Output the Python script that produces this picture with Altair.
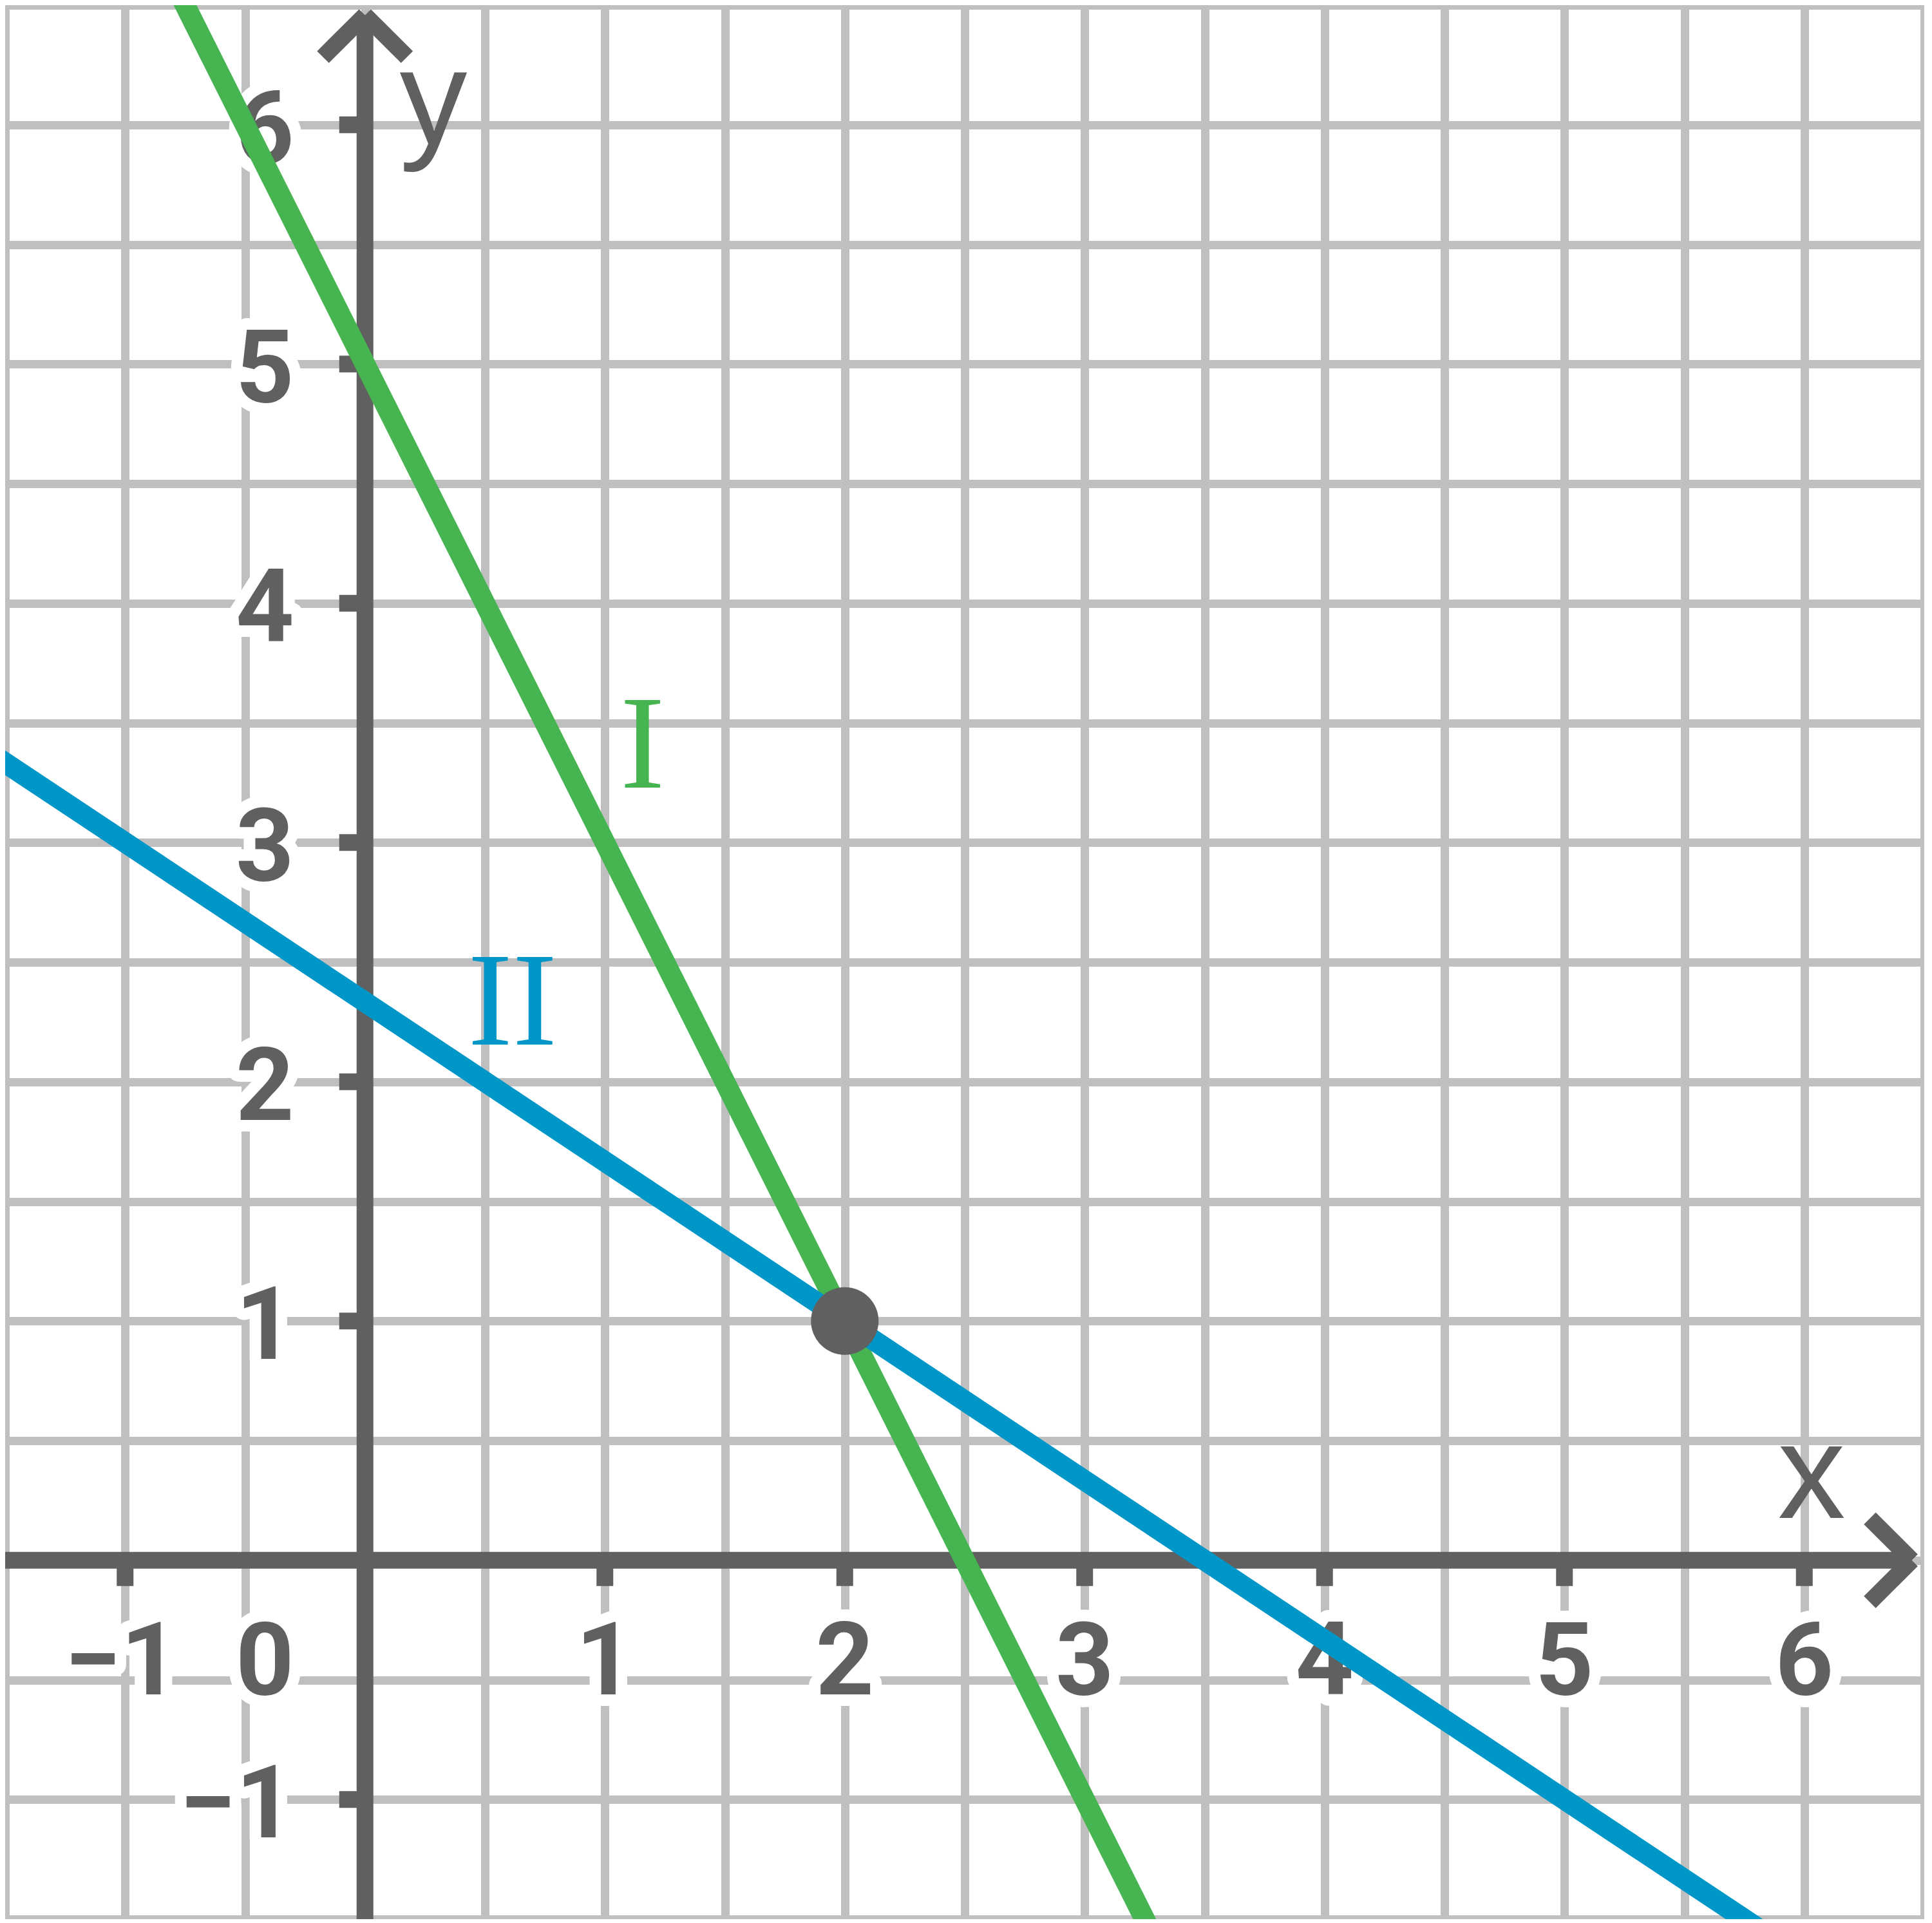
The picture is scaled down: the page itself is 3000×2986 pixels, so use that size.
import altair as alt
import pandas as pd

# ---------------- data ----------------
GRID_VALUES = [-1.5, -1.0, -0.5, 0.0, 0.5, 1.0, 1.5, 2.0, 2.5, 3.0, 3.5,
               4.0, 4.5, 5.0, 5.5, 6.0, 6.5]
X_TICKS = [-1, 1, 2, 3, 4, 5, 6]
X_LABEL_POS = [-1.014, 1, 2, 3, 4, 5, 6]
X_LABELS = ["−1", "1", "2", "3", "4", "5", "6"]
Y_TICKS = [-1, 1, 2, 3, 4, 5, 6]
Y_LABELS = ["−1", "1", "2", "3", "4", "5", "6"]
ORIGIN_LABEL = ["0"]

# line I : through (0, 5) and (2, 1)
LINE_I_X = [-0.8, 3.3]
LINE_I_Y = [6.6, -1.6]
# line II : through (0, 7/3) and (2, 1)
LINE_II_X = [-1.6, 6.0]
LINE_II_Y = [3.4, -1.6667]

POINT_X = [2]
POINT_Y = [1]

NAME_TEXT = ["I", "II"]
NAME_X = [1.157, 0.615]
NAME_Y = [3.23, 2.155]
NAME_COLOR = ["#46b450", "#0096c8"]

AXIS_X_EXTENT = [-1.6, 6.448]
AXIS_Y_EXTENT = [-1.6, 6.458]
X_ARROW = {"x": [6.448, 6.448], "y": [0, 0], "x2": [6.273, 6.273], "y2": [0.175, -0.175]}
Y_ARROW = {"x": [0, 0], "y": [6.458, 6.458], "x2": [-0.175, 0.175], "y2": [6.283, 6.283]}

AXIS_TITLES = ["x", "y"]
AXIS_TITLE_X = [6.03, 0.285]
AXIS_TITLE_Y = [0.178, 5.92]

# ---------------- styles ----------------
GRAY = "#606060"
GRID_C = "#bfbfbf"
GREEN = "#46b450"
BLUE = "#0096c8"
W, H = 2980, 2972

xs = alt.Scale(domain=[-1.5, 6.5], nice=False, zero=False)
ys = alt.Scale(domain=[-1.5, 6.5], nice=False, zero=False)
ax_x = alt.Axis(values=GRID_VALUES, grid=True, gridColor=GRID_C, gridWidth=13,
                gridOpacity=1, labels=False, ticks=False, domain=False, title=None)
ax_y = alt.Axis(values=GRID_VALUES, grid=True, gridColor=GRID_C, gridWidth=13,
                gridOpacity=1, labels=False, ticks=False, domain=False, title=None)


def X(f):
    return alt.X(f, type="quantitative", scale=xs, axis=ax_x)


def Y(f):
    return alt.Y(f, type="quantitative", scale=ys, axis=ax_y)


# tick-label tables
xlab = pd.DataFrame({"x": X_LABEL_POS, "y": [0] * len(X_LABEL_POS), "t": X_LABELS})
ylab = pd.DataFrame({"x": [0] * len(Y_TICKS), "y": Y_TICKS, "t": Y_LABELS})
olab = pd.DataFrame({"x": [0], "y": [0], "t": ORIGIN_LABEL})

LBL = dict(font="Roboto", fontWeight="bold", fontSize=158)
HALO = dict(fill="white", stroke="white", strokeWidth=36, strokeJoin="round")


def labels(df, halo, **kw):
    if halo:
        m = alt.Chart(df).mark_text(**LBL, **HALO, **kw)
    else:
        m = alt.Chart(df).mark_text(**LBL, color=GRAY, **kw)
    return m.encode(x=X("x"), y=Y("y"), text="t:N")


layers = []
# grid carrier (invisible)
grid = alt.Chart(pd.DataFrame({"x": [0], "y": [0]})).mark_point(opacity=0).encode(
    x=X("x"), y=Y("y"))
layers.append(grid)

for halo in (True, False):
    layers.append(labels(xlab, halo, align="center", baseline="alphabetic", dy=208))
    layers.append(labels(ylab, halo, align="right", baseline="alphabetic", dx=-110, dy=59))
    layers.append(labels(olab, halo, align="right", baseline="alphabetic", dx=-110, dy=208))

# axis lines
xaxis = alt.Chart(pd.DataFrame({"x": [AXIS_X_EXTENT[0]], "x2": [AXIS_X_EXTENT[1]], "y": [0]})).mark_rule(
    color=GRAY, strokeWidth=26, strokeCap="butt").encode(x=X("x"), x2="x2:Q", y=Y("y"))
yaxis = alt.Chart(pd.DataFrame({"y": [AXIS_Y_EXTENT[0]], "y2": [AXIS_Y_EXTENT[1]], "x": [0]})).mark_rule(
    color=GRAY, strokeWidth=26, strokeCap="butt").encode(y=Y("y"), y2="y2:Q", x=X("x"))
layers += [xaxis, yaxis]

# tick marks
xt = alt.Chart(pd.DataFrame({"x": X_TICKS, "y": [0] * len(X_TICKS)})).mark_rule(
    color=GRAY, strokeWidth=26, strokeCap="butt", y2Offset=40).encode(
    x=X("x"), y=Y("y"), y2="y:Q")
yt = alt.Chart(pd.DataFrame({"y": Y_TICKS, "x": [0] * len(Y_TICKS)})).mark_rule(
    color=GRAY, strokeWidth=26, strokeCap="butt", x2Offset=-40).encode(
    y=Y("y"), x=X("x"), x2="x:Q")
layers += [xt, yt]

# arrow heads
for arr in (X_ARROW, Y_ARROW):
    layers.append(alt.Chart(pd.DataFrame(arr)).mark_rule(
        color=GRAY, strokeWidth=26, strokeCap="butt").encode(
        x=X("x"), y=Y("y"), x2="x2:Q", y2="y2:Q"))

# the two lines
l1 = alt.Chart(pd.DataFrame({"x": LINE_I_X, "y": LINE_I_Y})).mark_line(
    color=GREEN, strokeWidth=32, strokeCap="butt").encode(x=X("x"), y=Y("y"))
l2 = alt.Chart(pd.DataFrame({"x": LINE_II_X, "y": LINE_II_Y})).mark_line(
    color=BLUE, strokeWidth=32, strokeCap="butt").encode(x=X("x"), y=Y("y"))
layers += [l1, l2]

# intersection point
pt = alt.Chart(pd.DataFrame({"x": POINT_X, "y": POINT_Y})).mark_circle(
    color=GRAY, opacity=1, size=11025).encode(x=X("x"), y=Y("y"))
layers.append(pt)

# line names
names = alt.Chart(pd.DataFrame({"x": NAME_X, "y": NAME_Y, "t": NAME_TEXT, "c": NAME_COLOR})).mark_text(
    font="Liberation Serif", fontSize=208, align="center", baseline="alphabetic").encode(
    x=X("x"), y=Y("y"), text="t:N", color=alt.Color("c:N", scale=None))
layers.append(names)

# axis titles
titles = alt.Chart(pd.DataFrame({"x": AXIS_TITLE_X, "y": AXIS_TITLE_Y, "t": AXIS_TITLES})).mark_text(
    font="Liberation Sans", fontSize=210, align="center", baseline="alphabetic", color=GRAY).encode(
    x=X("x"), y=Y("y"), text="t:N")
layers.append(titles)

chart = alt.layer(*layers).properties(
    width=W, height=H, padding=0, autosize=alt.AutoSizeParams(type="none"),
    background="white",
).configure_view(strokeWidth=0)

chart.save("out.html", embed_options={"renderer": "svg", "actions": False})
